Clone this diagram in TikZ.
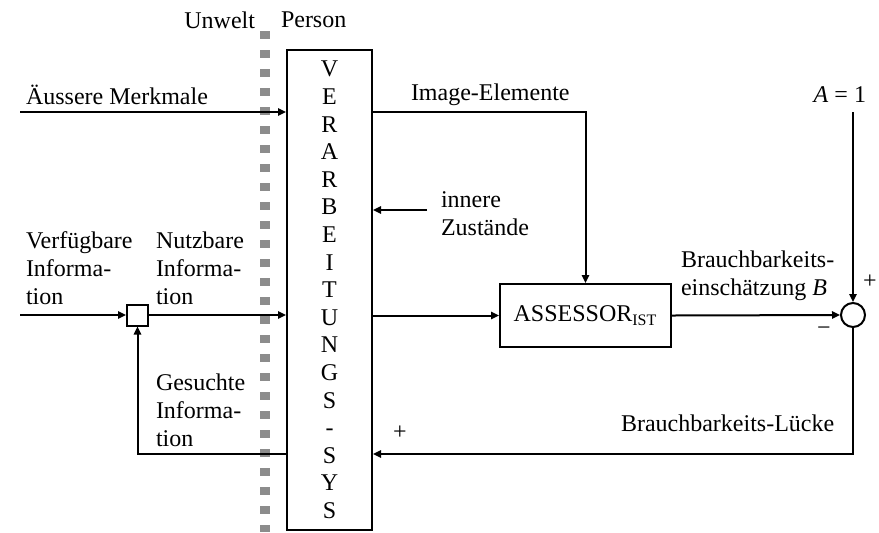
\documentclass[tikz,border=0pt]{standalone}
\usepackage{fontspec}
\setmainfont{Liberation Serif}
\usetikzlibrary{arrows.meta, positioning}

\begin{document}
\begin{tikzpicture}[x=0.5pt, y=-0.5pt, line width=1pt,
    every node/.style={font=\fontsize{12}{14}\selectfont},
    arr/.style={-{Triangle[length=4pt, width=3.6pt]}},
    block/.style={draw, inner sep=0pt},
    lbl/.style={anchor=west, align=left, inner sep=0pt}]
  \useasboundingbox (0,0) rectangle (879,532);
  % border between Umwelt and Person
  \draw[gray!90, line width=5pt, dash pattern=on 3.8pt off 5.7pt] (265,31) -- (265,532);
  \node[anchor=east, inner sep=0pt] at (256,20) {Unwelt};
  \node[anchor=west, inner sep=0pt] at (280,20) {Person};
  % blocks
  \node[block, minimum width=42.5pt, minimum height=240pt, align=center,
        font=\fontsize{12}{13.8}\selectfont] (verarb) at (329.5,290)
    {V\\E\\R\\A\\R\\B\\E\\I\\T\\U\\N\\G\\S\\-\\S\\Y\\S};
  \node[block, minimum width=85.5pt, minimum height=31.5pt] (assess) at (585.5,315.5)
    {ASSESSOR\textsubscript{IST}};
  \node[block, minimum size=10.5pt] (knot) at (137.5,315) {};
  \node[block, circle, minimum size=12pt] (sum) at (853,315) {};
  % free ends
  \coordinate (merkIn) at (20,112);
  \coordinate (verfIn) at (20,315);
  \coordinate (innen) at (427,210);
  \coordinate (soll) at (853,112);
  % connectors
  \draw[arr] (merkIn) -- (merkIn -| verarb.west);
  \draw[arr] (verfIn) -- (knot);
  \draw[arr] (knot) -- (knot -| verarb.west);
  \draw[arr] (verarb.west |- 0,454) -| (knot.south);
  \draw[arr] (verarb.east |- merkIn) -| (assess.north);
  \draw[arr] (innen) -- (innen -| verarb.east);
  \draw[arr] (verarb.east |- assess) -- (assess.west);
  \draw[arr] (assess.east) -- (sum.west);
  \draw[arr] (soll) -- (sum.north);
  \draw[arr] (sum.south) |- (verarb.east |- 0,454);
  % labels
  \node[lbl] at (25,95) {Äussere Merkmale};
  \node[lbl] at (25,268) {Verfügbare\\Informa-\\tion};
  \node[lbl] at (155,268) {Nutzbare\\Informa-\\tion};
  \node[lbl] at (155,410) {Gesuchte\\Informa-\\tion};
  \node[lbl] at (410,95) {Image-Elemente};
  \node[lbl] at (440,214) {innere\\Zustände};
  \node[lbl] at (680,276) {Brauchbarkeits-\\einschätzung \textit{B}};
  \node[lbl] at (620,423) {Brauchbarkeits-Lücke};
  \node[anchor=east, inner sep=0pt] at (867,95) {\textit{A} = 1};
  \node at (400,433) {+};
  \node at (870,282) {+};
  \node at (824,331) {−};
\end{tikzpicture}
\end{document}
